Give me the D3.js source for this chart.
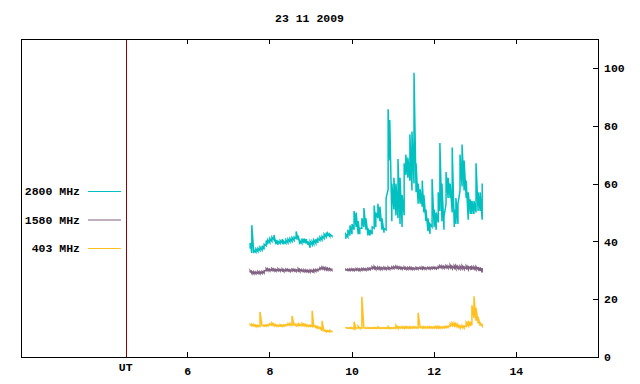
<!DOCTYPE html>
<html>
  <head>
    <meta charset="utf-8">
    <script src="https://cdn.jsdelivr.net/npm/d3@7"></script>
    <style type="text/css">
      body { margin: 0; background: #fff; }
      text { font-family: "Liberation Mono", "DejaVu Sans Mono", monospace; font-size: 11.5px; font-weight: bold; fill: #000; }
      .axis path { display: none; }
      .axis line { stroke: #000; shape-rendering: crispEdges; }
      .trace { fill: none; stroke-width: 1.5; stroke-linejoin: miter; }
    </style>
  </head>
  <body>
    <div class="plot_canvas"></div>
    <script>
      // sample times (UT hours), two recording intervals
      var hours = [7.53,7.57,7.62,7.67,7.72,7.77,7.82,7.87,7.92,7.96,8.01,8.06,8.11,8.16,8.21,8.26,8.31,8.35,8.40,8.45,8.50,8.55,8.60,8.65,8.70,8.74,8.79,8.84,8.89,8.94,8.99,9.04,9.08,9.13,9.18,9.23,9.28,9.33,9.38,9.42,9.47,9.52,
        9.86,9.91,9.96,10.01,10.06,10.11,10.16,10.20,10.25,10.30,10.35,10.40,10.45,10.50,10.55,10.59,10.64,10.69,10.74,10.79,10.84,10.89,10.93,10.98,11.03,11.08,11.13,11.18,11.23,11.28,11.32,11.37,11.42,11.47,11.52,11.57,11.62,11.67,11.72,11.76,11.81,11.86,11.91,11.96,12.01,12.06,12.11,12.15,12.20,12.25,12.30,12.35,12.40,12.45,12.50,12.54,12.59,12.64,12.69,12.74,12.79,12.84,12.89,12.93,12.98,13.03,13.08,13.13,13.18];

      // 2800 MHz: min / max within each sample
      var lo2800 = [37.5,36,35.9,36.2,36.5,36.8,37,37.2,38.5,39,39.5,40,40.5,39,38.8,39.3,39.5,39,39.3,39.5,39.8,40,40.3,41,40.5,39,39.3,39.5,39.3,38.8,37.8,38.8,39,39.3,39.5,40.3,40.5,41,41.5,41.8,41.7,41.8,
        40.8,41.5,42,42.5,44,45,42.5,42.5,44.5,45,44,42,42,42.5,44.5,45,48,47,44,43,44,58,68,47,51,49,48,46,45,49,63,62,61,57.6,60,57,53,53,52,50,47,43.5,42.6,45,45,44,46.5,50.5,47,44,53,55,55,50,45,46,46,57.6,59,57.6,55,47.5,49.5,49.5,49.5,50,50.5,50.5,47.5];
      var hi2800 = [39.5,45.6,37,37.4,37.6,38,38.5,39,40.3,40.5,41,41.5,42.2,40.5,40,40.3,40.8,40,40.5,40.8,41,41.3,41.5,43.4,42,40.3,41,41,40.8,40,40,40,40.5,40.8,41,41.5,41.8,42.5,43,42.8,42.5,42.3,
        42.5,44,45.5,46,50.5,50,47,44.5,48,51.5,48,44.5,44,45,52.4,50,53,52,48,44.5,55,85.7,82,60,62,60,68.5,62,56,67,70,69,77,78,98.3,67,60,58,61,56,51,48,46,61.6,51,50,57,74,60,48.5,64,62,60,72.5,51,55,53,70,73.5,68,61,57,54.5,54,54,67,57,57,60];

      // 1580 MHz
      var lo1580 = [29.2,28.9,28.8,28.8,28.9,28.8,28.9,29.0,29.8,29.9,29.8,29.9,29.8,29.7,29.8,29.7,29.8,29.6,29.7,29.8,29.6,29.7,29.8,29.6,29.7,29.6,29.7,29.5,29.5,29.4,29.3,29.5,29.4,29.6,29.8,30.2,30.4,30.3,30.2,30.1,30.0,30.0,
        29.8,29.9,29.9,30.0,29.9,30.0,30.0,29.9,30.0,30.1,30.0,30.1,30.2,30.5,30.5,30.4,30.4,30.3,30.3,30.4,30.3,30.4,30.4,30.5,30.6,30.7,30.6,30.5,30.4,30.5,30.4,30.3,30.4,30.3,30.3,30.4,30.4,30.5,30.4,30.5,30.4,30.5,30.4,30.5,30.6,30.5,30.7,30.9,30.8,30.7,30.8,30.7,30.8,30.6,30.7,30.5,30.6,30.4,30.5,30.4,30.6,30.3,30.5,30.2,30.4,30.2,30.3,29.8,29.2];
      var hi1580 = [29.8,29.6,29.5,29.4,29.6,29.5,29.6,29.8,30.6,30.5,30.4,30.6,30.4,30.3,30.5,30.3,30.4,30.2,30.4,30.3,30.2,30.4,30.3,30.2,30.5,30.3,30.2,30.2,30.1,30.0,30.1,30.0,30.2,30.3,30.4,30.9,31.1,31.0,30.8,30.7,30.6,30.6,
        30.3,30.4,30.5,30.5,30.4,30.6,30.5,30.5,30.6,30.6,30.5,30.7,30.8,31.2,31.3,31.0,31.1,31.0,30.9,31.0,30.9,31.1,30.9,31.2,31.3,31.4,31.2,31.1,31.0,31.1,30.9,31.0,31.0,30.9,30.8,31.0,30.9,31.0,31.1,31.0,30.9,31.0,31.0,31.1,31.1,31.0,31.3,31.6,31.5,31.4,31.6,31.5,31.8,31.4,31.5,31.6,31.3,31.4,31.6,31.2,31.5,31.3,31.4,31.2,31.2,31.3,31.1,31.0,30.8];

      // 403 MHz
      var lo403 = [10.9,10.8,10.8,10.5,10.5,10.6,10.7,10.7,10.7,10.8,11.0,11.0,10.9,10.7,10.6,10.7,10.6,10.7,10.8,11.0,11.0,11.0,10.8,10.8,10.8,10.7,10.8,10.8,10.7,10.6,10.6,10.5,10.3,10.2,10.0,9.9,9.0,8.8,8.7,8.8,8.7,8.8,
        9.9,9.9,9.9,9.9,9.6,9.5,10.1,9.9,9.9,9.9,9.9,9.9,9.9,9.9,9.9,9.9,9.9,9.9,9.9,9.9,9.9,9.9,9.9,9.9,9.9,9.9,9.9,10.0,10.0,9.9,10.0,10.0,9.9,10.0,10.0,10.0,10.0,10.0,10.0,10.0,10.0,10.0,10.0,10.0,10.0,10.0,10.0,10.0,10.0,10.0,10.1,10.2,10.6,10.8,10.8,10.7,10.5,10.0,10.2,10.0,10.5,10.8,10.6,11.0,13.5,12.5,11.6,10.8,10.7];
      var hi403 = [11.3,11.3,11.2,11.0,11.0,15.6,11.0,11.0,11.1,11.2,11.5,11.8,11.4,11.1,11.0,11.2,11.0,11.1,11.2,11.5,11.6,14.2,11.5,11.2,11.8,11.3,11.6,11.4,11.2,11.0,11.0,16.0,10.8,10.7,10.5,10.4,12.5,9.2,9.2,9.1,9.2,9.1,
        10.1,10.1,10.1,10.2,12.2,9.9,10.7,10.2,20.8,10.1,10.1,10.2,10.1,10.1,10.2,10.1,10.4,10.1,10.1,10.2,10.1,10.5,10.1,10.1,10.2,11.0,10.5,10.4,10.5,10.4,10.5,10.4,10.5,10.4,10.5,10.4,15.3,10.5,10.4,10.5,10.4,10.5,10.5,10.4,10.5,10.6,10.5,10.5,10.4,10.5,10.6,10.7,11.6,11.8,11.6,11.5,11.2,10.8,10.9,10.8,12.0,12.5,12.2,17.9,21.0,17.0,13.9,11.8,11.5];

      var series = [
        {name: "2800 MHz", color: "#00c0c0", lo: lo2800, hi: hi2800},
        {name: "1580 MHz", color: "#806080", lo: lo1580, hi: hi1580},
        {name: "403 MHz",  color: "#ffc020", lo: lo403,  hi: hi403}
      ];
      var xTicks = [6, 8, 10, 12, 14];
      var yTicks = [0, 20, 40, 60, 80, 100];
      var utHour = 4.5;

      var width = 640, height = 384;
      var margin = {top: 39, right: 42, bottom: 27, left: 21};

      var xScale = d3.scaleLinear()
      .domain([1.95, 16])
      .range([margin.left, width - margin.right]);

      var yScale = d3.scaleLinear()
      .domain([0, 110])
      .range([height - margin.bottom, margin.top]);

      var svg = d3.select(".plot_canvas")
      .append("svg")
      .attr("width", width)
      .attr("height", height);

      // title
      svg.append("text")
      .attr("x", (xScale.range()[0] + xScale.range()[1]) / 2)
      .attr("y", 22)
      .attr("text-anchor", "middle")
      .text("23 11 2009");

      // axes, ticks pointing inwards
      svg.append("g")
      .attr("class", "axis")
      .attr("transform", "translate(0," + yScale(0) + ")")
      .call(d3.axisBottom(xScale).tickValues(xTicks).tickSize(-5).tickPadding(10).tickFormat(d3.format("d")));

      svg.append("g")
      .attr("class", "axis")
      .attr("transform", "translate(0," + margin.top + ")")
      .call(d3.axisTop(xScale).tickValues(xTicks).tickSize(-5).tickFormat(""));

      svg.append("g")
      .attr("class", "axis")
      .attr("transform", "translate(" + xScale.range()[1] + ",0)")
      .call(d3.axisRight(yScale).tickValues(yTicks).tickSize(-5).tickPadding(6));

      svg.selectAll(".axis").attr("font-family", null).attr("font-size", null);

      svg.append("text")
      .attr("x", xScale(utHour))
      .attr("y", 371)
      .attr("text-anchor", "middle")
      .text("UT");

      // traces: each sample drawn from its min to its max
      var line = d3.line()
      .x(function(d) { return xScale(d.t); })
      .y(function(d) { return yScale(d.v); });

      function segments(s) {
        var segs = [], cur = [];
        hours.forEach(function(t, i) {
          if (i > 0 && t - hours[i-1] > 0.2) { segs.push(cur); cur = []; }
          cur.push({t: t, v: s.lo[i]});
          cur.push({t: t, v: s.hi[i]});
        });
        segs.push(cur);
        return segs;
      }

      series.forEach(function(s) {
        svg.append("g").selectAll("path")
        .data(segments(s)).enter()
        .append("path")
        .attr("class", "trace")
        .attr("stroke", s.color)
        .attr("d", line);
      });

      // UT marker line
      svg.append("line")
      .attr("x1", Math.round(xScale(utHour)) + 0.5)
      .attr("x2", Math.round(xScale(utHour)) + 0.5)
      .attr("y1", yScale(110))
      .attr("y2", yScale(0))
      .attr("stroke", "#8b0000")
      .attr("stroke-width", 1);

      // frame
      svg.append("rect")
      .attr("x", xScale.range()[0] + 0.5)
      .attr("y", yScale(110) + 0.5)
      .attr("width", xScale.range()[1] - xScale.range()[0])
      .attr("height", yScale(0) - yScale(110))
      .attr("fill", "none")
      .attr("stroke", "#000")
      .attr("shape-rendering", "crispEdges");

      // legend
      var legend = svg.append("g").selectAll("g")
      .data(series).enter()
      .append("g")
      .attr("transform", function(d, i) { return "translate(0," + (191 + i * 28.5) + ")"; });

      legend.append("text")
      .attr("x", 80)
      .attr("y", 4)
      .attr("text-anchor", "end")
      .text(function(d) { return d.name; });

      legend.append("line")
      .attr("x1", 88)
      .attr("x2", 121)
      .attr("y1", 0.5)
      .attr("y2", 0.5)
      .attr("stroke", function(d) { return d.color; });
    </script>
  </body>
</html>
